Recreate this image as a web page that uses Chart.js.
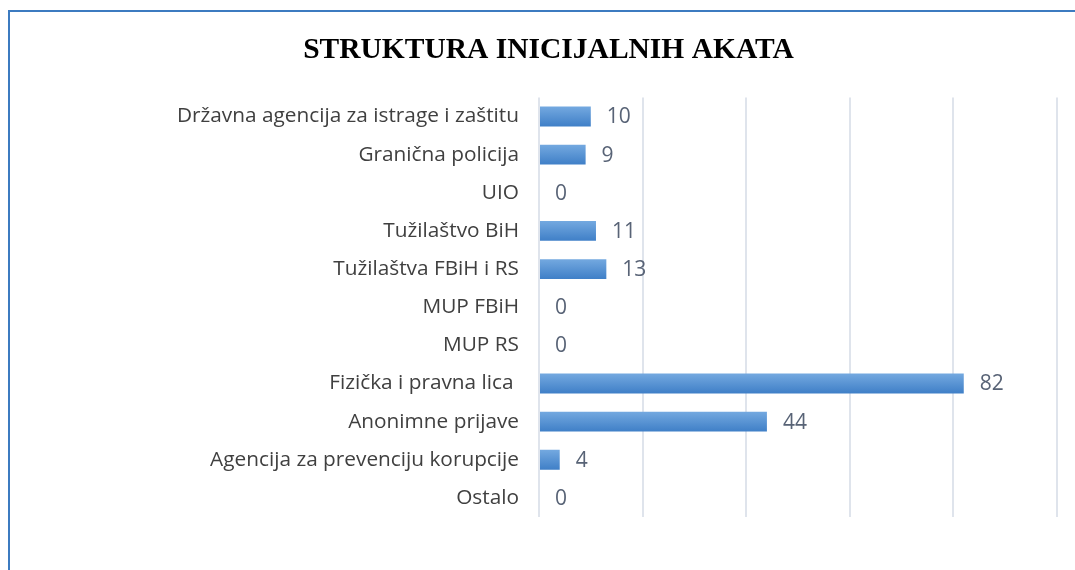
<!DOCTYPE html>
<html>
<head>
<meta charset="utf-8">
<script src="https://cdn.jsdelivr.net/npm/chart.js@4/dist/chart.umd.min.js"></script>
<style>
    html, body { margin: 0; padding: 0; background: #fff; }
    #wrap { position: relative; width: 1075px; height: 570px; overflow: hidden; }
    #frame {
        position: absolute; left: 8px; top: 10px; width: 1100px; height: 600px;
        border-left: 2px solid #3c7bc0; border-top: 2px solid #3c7bc0;
    }
    #chart { position: absolute; left: 0; top: 0; }
</style>
</head>
<body>
<div id="wrap">
    <div id="frame"></div>
    <canvas id="chart" width="1075" height="570"></canvas>
</div>
<script>
const titleText = 'STRUKTURA INICIJALNIH AKATA';

const categories = [
    'Državna agencija za istrage i zaštitu',
    'Granična policija',
    'UIO',
    'Tužilaštvo BiH',
    'Tužilaštva FBiH i RS',
    'MUP FBiH',
    'MUP RS',
    'Fizička i pravna lica ',
    'Anonimne prijave',
    'Agencija za prevenciju korupcije',
    'Ostalo'
];

const counts = [10, 9, 0, 11, 13, 0, 0, 82, 44, 4, 0];

const axisMin = 0;
const axisMax = 100;
const axisStep = 20;

document.addEventListener('DOMContentLoaded', () => {
    const ctx = document.getElementById('chart').getContext('2d');

    // vertical gradient per bar, built from the category scale position
    const barFill = (context) => {
        const chart = context.chart;
        const yScale = chart.scales.y;
        if (!yScale || context.dataIndex === undefined) return '#5693d6';
        const yc = yScale.getPixelForValue(context.dataIndex);
        if (!isFinite(yc)) return '#5693d6';
        const half = 10;
        const g = chart.ctx.createLinearGradient(0, yc - half, 0, yc + half);
        g.addColorStop(0, '#74a9e0');
        g.addColorStop(1, '#3f7fc7');
        return g;
    };

    const valueLabels = {
        id: 'valueLabels',
        afterDatasetsDraw(chart) {
            const c = chart.ctx;
            const meta = chart.getDatasetMeta(0);
            c.save();
            c.font = '21px "Open Sans"';
            c.fillStyle = '#586376';
            c.textAlign = 'left';
            c.textBaseline = 'middle';
            meta.data.forEach((bar, i) => {
                c.fillText(String(counts[i]), bar.x + 16, bar.y + 1);
            });
            c.restore();
        }
    };

    new Chart(ctx, {
        type: 'bar',
        data: {
            labels: categories,
            datasets: [{
                label: 'Broj akata',
                data: counts,
                backgroundColor: barFill,
                borderWidth: 0,
                categoryPercentage: 1,
                barPercentage: 0.52
            }]
        },
        options: {
            indexAxis: 'y',
            responsive: false,
            animation: false,
            layout: {
                padding: { left: 40, right: 18, top: 0, bottom: 53 }
            },
            plugins: {
                legend: { display: false },
                tooltip: { enabled: false },
                title: {
                    display: true,
                    text: titleText,
                    color: '#000',
                    font: { family: '"Liberation Serif", "Times New Roman", serif', size: 29.5, weight: 'bold', lineHeight: 1.2 },
                    padding: { top: 33, bottom: 29 }
                }
            },
            scales: {
                x: {
                    min: axisMin,
                    max: axisMax,
                    ticks: { stepSize: axisStep, display: false },
                    grid: { color: '#dfe4ec', lineWidth: 2, drawTicks: false },
                    border: { display: false }
                },
                y: {
                    grid: { display: false, drawTicks: false },
                    border: { display: false },
                    ticks: {
                        color: '#404040',
                        padding: 20,
                        font: { family: '"Open Sans"', size: 20.8 }
                    },
                    afterFit(scale) {
                        scale.width = 499;
                    }
                }
            }
        },
        plugins: [valueLabels]
    });
});
</script>
</body>
</html>
